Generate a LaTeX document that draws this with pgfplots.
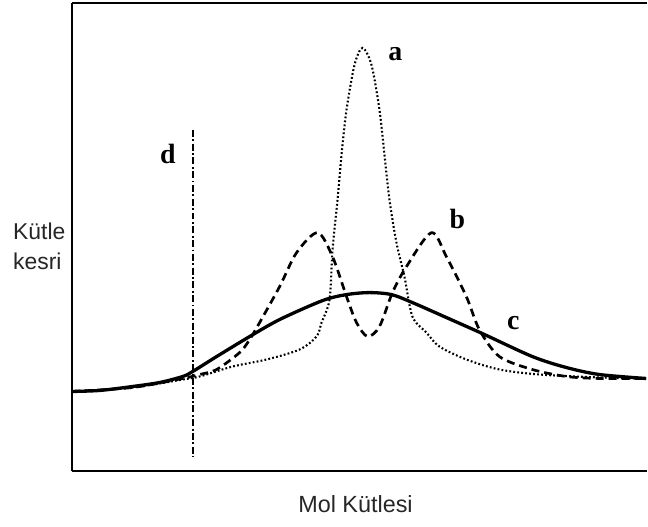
\documentclass[border=0pt]{standalone}
\usepackage{fontspec}
\setmainfont{Liberation Sans}
\newfontfamily\lbl{Liberation Serif}
\usepackage{pgfplots}
\pgfplotsset{compat=1.18}
\begin{document}
\begin{tikzpicture}
\begin{axis}[
  scale only axis, width=576bp, height=469bp,
  xmin=72, xmax=648, ymin=0, ymax=469,
  separate axis lines, axis x line*=box, axis y line*=left,
  axis line style={line width=1.8bp, -},
  xtick=\empty, ytick=\empty, clip=false,
]
  % curve c (solid)
  \addplot[smooth, line width=3.3bp] coordinates {
    (72,80)(100,81)(133,85)(160,89)(183,95)(193,100)(217,115)(250,135)(280,152)
    (323,171)(347,177)(370,179)(392,177)(413,169)(447,154)(483,138)(533,115)
    (567,104)(600,97)(647,93)};
  % curve b (dashed)
  \addplot[smooth, line width=2.7bp, dash pattern=on 8bp off 5bp] coordinates {
    (72,80)(133,84)(183,93)(200,97)(217,102)(240,119)(250,132)(260,149)(280,185)
    (297,219)(318,239)(333,215)(347,175)(357,149)(368,135)(380,145)(393,179)
    (407,205)(432,239)(447,215)(467,175)(480,142)(500,115)(533,102)(567,95)
    (600,93)(647,93)};
  % curve a (dotted)
  \addplot[smooth, line width=2.1bp, dash pattern=on 1.8bp off 2.2bp] coordinates {
    (72,80)(133,84)(183,92)(200,95)(233,105)(267,112)(300,122)(317,135)(322,149)
    (330,172)(333,222)(338,272)(342,317)(347,362)(355,407)(363,424)(372,407)
    (380,362)(385,317)(390,272)(397,229)(405,195)(413,155)(427,139)(440,125)
    (467,112)(500,102)(540,97)(600,94)(647,93)};
  % line d (dash-dot)
  \addplot[line width=2.1bp, dash pattern=on 7bp off 2.5bp on 1.8bp off 2.5bp]
    coordinates {(193,342)(193,14)};
  \node[font=\lbl\bfseries\fontsize{28}{30}\selectfont] at (axis cs:396,418) {a};
  \node[font=\lbl\bfseries\fontsize{28}{30}\selectfont] at (axis cs:458,253) {b};
  \node[font=\lbl\bfseries\fontsize{28}{30}\selectfont] at (axis cs:514,148) {c};
  \node[font=\lbl\bfseries\fontsize{28}{30}\selectfont] at (axis cs:168,318) {d};
  \node[font=\fontsize{23}{30}\selectfont, align=left, anchor=west, text=black!85,
    inner sep=0pt] at (axis cs:13,225) {Kütle\\kesri};
  \node[font=\fontsize{23.5}{24}\selectfont, text=black!85] at (axis cs:356,-33) {Mol Kütlesi};
  \path (axis cs:0,-55) rectangle (axis cs:648,472);
\end{axis}
\end{tikzpicture}
\end{document}
